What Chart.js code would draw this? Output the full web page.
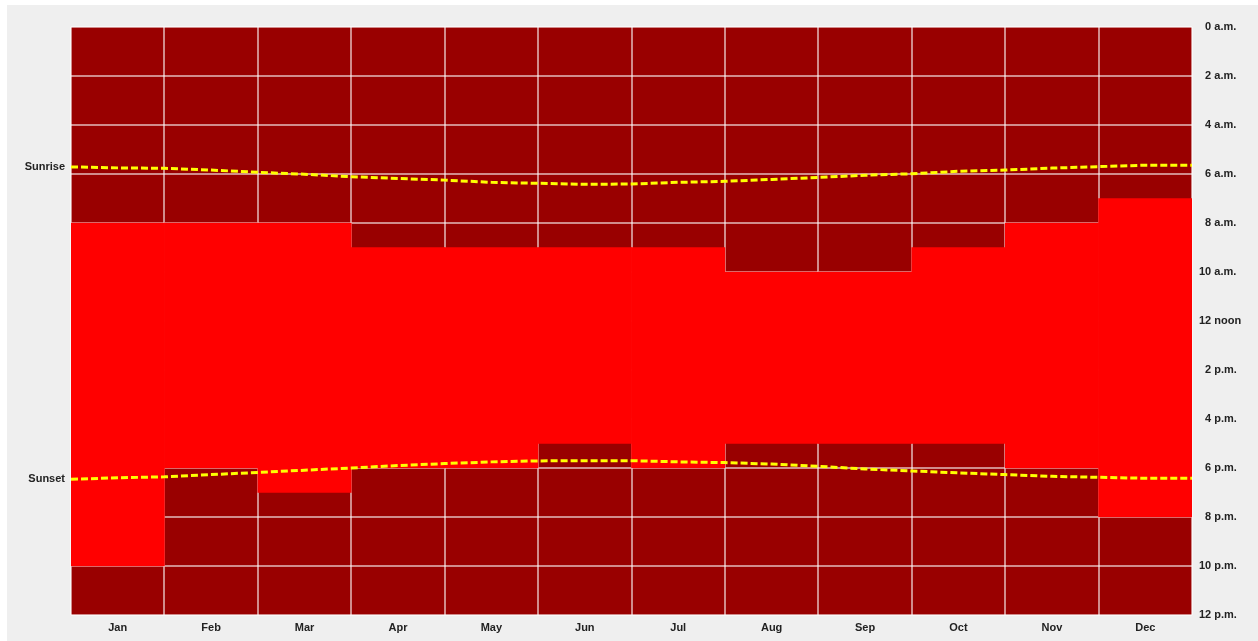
<!DOCTYPE html>
<html>
<head>
<meta charset="utf-8">
<script src="https://cdn.jsdelivr.net/npm/chart.js@4/dist/chart.umd.min.js"></script>
<style>
    html, body { margin: 0; padding: 0; background: #ffffff; }
    #wrap { position: absolute; left: 7px; top: 5px; width: 1251px; height: 636px; background: #efefef; }
</style>
</head>
<body>
<div id="wrap"><canvas id="sunChart"></canvas></div>
<script>
// Months and the daylight block (hour of day when the bright red block starts / ends)
const months = ['Jan', 'Feb', 'Mar', 'Apr', 'May', 'Jun', 'Jul', 'Aug', 'Sep', 'Oct', 'Nov', 'Dec'];
const brightStart = [8, 8, 8, 9, 9, 9, 9, 10, 10, 9, 8, 7];
const brightEnd = [22, 18, 19, 18, 18, 17, 18, 17, 17, 17, 18, 20];

// Sunrise / sunset in hours, sampled at start and middle of every month
const linePos = [0, 0.5, 1, 1.5, 2, 2.5, 3, 3.5, 4, 4.5, 5, 5.5, 6, 6.5, 7, 7.5, 8, 8.5, 9, 9.5, 10, 10.5, 11, 11.5, 12];
const sunrise = [5.71, 5.75, 5.77, 5.84, 5.93, 6.01, 6.11, 6.18, 6.25, 6.34, 6.38, 6.42, 6.41, 6.34, 6.30, 6.22, 6.14, 6.05, 5.99, 5.89, 5.84, 5.76, 5.70, 5.64, 5.64];
const sunset = [18.46, 18.40, 18.36, 18.27, 18.18, 18.09, 18.00, 17.90, 17.82, 17.75, 17.71, 17.70, 17.70, 17.75, 17.78, 17.84, 17.93, 18.04, 18.12, 18.20, 18.27, 18.34, 18.38, 18.42, 18.42];

// Tick labels on the right axis, one per 2 hours (figure space keeps the numbers right-aligned)
const hourLabels = ['\u20070 a.m.', '\u20072 a.m.', '\u20074 a.m.', '\u20076 a.m.', '\u20078 a.m.', '10 a.m.', '12 noon',
    '\u20072 p.m.', '\u20074 p.m.', '\u20076 p.m.', '\u20078 p.m.', '10 p.m.', '12 p.m.'];

const DARK = '#990000';
const BRIGHT = '#ff0000';
const GRID = 'rgba(255, 255, 255, 0.55)';
const TEXT = '#222222';
const FONT = { family: 'Liberation Sans, Arial, sans-serif', size: 11, weight: 'bold' };

// fills the plot area dark red, and writes Sunrise / Sunset on the left
const plotBackground = {
    id: 'plotBackground',
    beforeDraw(chart) {
        const { ctx, chartArea: a } = chart;
        ctx.save();
        ctx.fillStyle = DARK;
        ctx.fillRect(a.left, a.top, a.right - a.left, a.bottom - a.top);
        ctx.restore();
    },
    afterDraw(chart) {
        const { ctx, chartArea: a } = chart;
        const y = chart.scales.y;
        ctx.save();
        ctx.font = 'bold 11px "Liberation Sans", Arial, sans-serif';
        ctx.fillStyle = TEXT;
        ctx.textAlign = 'right';
        ctx.textBaseline = 'middle';
        ctx.fillText('Sunrise', a.left - 6, y.getPixelForValue(sunrise[0]));
        ctx.fillText('Sunset', a.left - 6, y.getPixelForValue(sunset[0]));
        ctx.restore();
    }
};

function lineData(values) {
    return linePos.map((p, i) => ({ x: p, y: values[i] }));
}

const lineStyle = {
    type: 'line',
    xAxisID: 'x2',
    borderColor: '#ffff00',
    borderWidth: 3,
    borderDash: [7, 3],
    pointRadius: 0,
    fill: false,
    tension: 0
};

new Chart(document.getElementById('sunChart'), {
    data: {
        labels: months,
        datasets: [
            Object.assign({ label: 'Sunrise', data: lineData(sunrise) }, lineStyle),
            Object.assign({ label: 'Sunset', data: lineData(sunset) }, lineStyle),
            {
                type: 'bar',
                label: 'Daylight',
                data: brightStart.map((s, i) => [s, brightEnd[i]]),
                backgroundColor: BRIGHT,
                borderWidth: 0,
                grouped: false,
                barPercentage: 1,
                categoryPercentage: 1
            }
        ]
    },
    options: {
        responsive: true,
        maintainAspectRatio: false,
        animation: false,
        layout: { padding: { left: 64, top: 22, right: 0, bottom: 0 } },
        plugins: { legend: { display: false }, tooltip: { enabled: false } },
        scales: {
            x: {
                type: 'category',
                offset: true,
                z: 1,
                border: { display: false },
                grid: { color: GRID, lineWidth: 2, offset: true, drawTicks: false },
                ticks: { color: TEXT, font: FONT, padding: 6, maxRotation: 0 },
                afterFit(scale) { scale.height = 26; }
            },
            x2: {
                type: 'linear',
                display: false,
                min: 0,
                max: 12
            },
            y: {
                position: 'right',
                reverse: true,
                min: 0,
                max: 24,
                z: 1,
                border: { display: false },
                grid: { color: GRID, lineWidth: 2, drawTicks: false },
                ticks: {
                    stepSize: 2,
                    color: TEXT,
                    font: FONT,
                    padding: 7,
                    crossAlign: 'near',
                    callback: (v) => hourLabels[v / 2]
                },
                afterFit(scale) { scale.width = 66; }
            }
        }
    },
    plugins: [plotBackground]
});
</script>
</body>
</html>
